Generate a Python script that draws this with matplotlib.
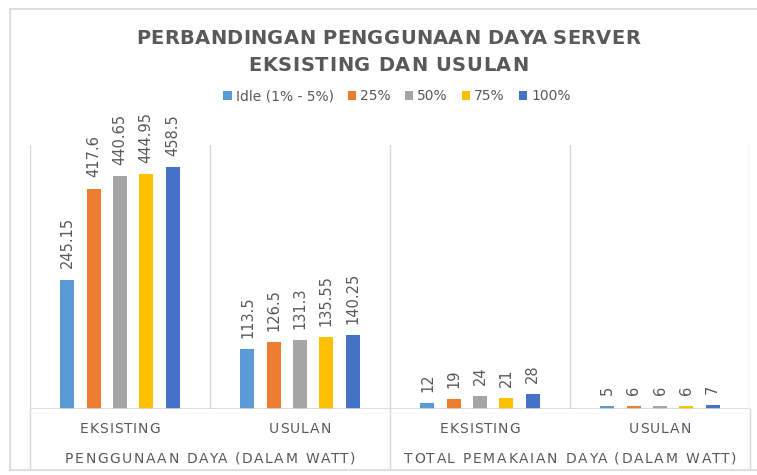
import matplotlib
matplotlib.use("Agg")
import matplotlib.pyplot as plt
import numpy as np
from matplotlib.patches import Rectangle
from matplotlib.lines import Line2D
from matplotlib.font_manager import FontProperties

# ---- data ----
subcategories = ["EKSISTING", "USULAN", "EKSISTING", "USULAN"]
groups = ["PENGGUNAAN DAYA (DALAM WATT)", "TOTAL PEMAKAIAN DAYA (DALAM WATT)"]
series_names = ["Idle (1% - 5%)", "25%", "50%", "75%", "100%"]
idle = [245.15, 113.5, 12, 5]
p25 = [417.6, 126.5, 19, 6]
p50 = [440.65, 131.3, 24, 6]
p75 = [444.95, 135.55, 21, 6]
p100 = [458.5, 140.25, 28, 7]
label_idle = ["245.15", "113.5", "12", "5"]
label_p25 = ["417.6", "126.5", "19", "6"]
label_p50 = ["440.65", "131.3", "24", "6"]
label_p75 = ["444.95", "135.55", "21", "6"]
label_p100 = ["458.5", "140.25", "28", "7"]
title_lines = ["PERBANDINGAN PENGGUNAAN DAYA SERVER", "EKSISTING DAN USULAN"]
colors = ["#5B9BD5", "#ED7D31", "#A5A5A5", "#FFC000", "#4472C4"]

series = [idle, p25, p50, p75, p100]
labels = [label_idle, label_p25, label_p50, label_p75, label_p100]

W, H = 757, 475
fig = plt.figure(figsize=(W / 100, H / 100), dpi=100)
fig.patch.set_facecolor("white")
renderer = fig.canvas.get_renderer()
TXT = "#595959"
grid_c = "#d9d9d9"


def fx(px):
    return px / W


def fy(py):
    return 1 - py / H


def text_w(s, prop):
    if not s:
        return 0.0
    w1 = renderer.get_text_width_height_descent(s + "H", prop, ismath=False)[0]
    w2 = renderer.get_text_width_height_descent("H", prop, ismath=False)[0]
    return w1 - w2


def spaced_text(xc, ybase, s, target_w, size, weight="normal"):
    """Draw text with letter spacing so its overall width is target_w pixels."""
    prop = FontProperties(family="DejaVu Sans", size=size, weight=weight)
    natural = text_w(s, prop)
    track = max((target_w - natural) / (len(s) - 1), 0.0)
    start = xc - target_w / 2
    for i, ch in enumerate(s):
        if ch == " ":
            continue
        xp = start + text_w(s[:i], prop) + track * i
        fig.text(fx(xp), fy(ybase), ch, ha="left", va="baseline",
                 fontproperties=prop, color=TXT)


# outer chart border (top, left, bottom)
for xs_, ys_ in [([10, 757], [9, 9]), ([10, 10], [9, 470]), ([10, 757], [470, 470])]:
    fig.add_artist(Line2D([fx(v) for v in xs_], [fy(v) for v in ys_],
                          transform=fig.transFigure, color=grid_c, linewidth=1.2))

left, right = 30 / W, 750 / W
bottom, top = 1 - 409 / H, 1 - 145 / H
ax = fig.add_axes([left, bottom, right - left, top - bottom])
ax.set_xlim(-0.5, len(subcategories) - 0.5)
ax.set_ylim(0, 500)
for s in ax.spines.values():
    s.set_visible(False)
ax.set_xticks([])
ax.set_yticks([])

x = np.arange(len(subcategories))
step = 0.146
width = 0.078
for i, (vals, labs) in enumerate(zip(series, labels)):
    xs = x + (i - 2) * step
    ax.bar(xs, vals, width=width, color=colors[i], zorder=3)
    for xi, v, lab in zip(xs, vals, labs):
        ax.annotate(lab, (xi, v), xytext=(0, 8), textcoords="offset points",
                    rotation=90, ha="center", va="bottom", fontsize=10.5,
                    color=TXT, family="DejaVu Sans")

# vertical gridlines at category boundaries
for b in np.arange(-0.5, len(subcategories), 1.0):
    ax.axvline(b, color=grid_c, linewidth=1, zorder=1)
ax.axhline(0, color=grid_c, linewidth=1.2, zorder=4)

# group separators extending below the axis
ext = -(469 - 409) / (409 - 145)
for b in [-0.5, 1.5, 3.5]:
    ax.add_line(Line2D([b, b], [0, ext], transform=ax.get_xaxis_transform(),
                       color=grid_c, linewidth=1, clip_on=False))

# sub-category labels (target widths in px)
sub_widths = {"EKSISTING": 80, "USULAN": 63}
for xi, lab in zip(x, subcategories):
    xc_px = 30 + (xi + 0.5) * (720 / len(subcategories))
    spaced_text(xc_px, 433, lab, sub_widths[lab], 10)
group_widths = [290, 333]
for gi, g in enumerate(groups):
    xc_px = 30 + (gi + 0.5) * 360
    spaced_text(xc_px, 463, g, group_widths[gi], 10)

# title
spaced_text(388, 44, title_lines[0], 504, 14, "bold")
spaced_text(388, 71, title_lines[1], 280, 14, "bold")

# legend
handles = [Rectangle((0, 0), 1, 1, facecolor=c, edgecolor="none") for c in colors]
fig.legend(handles, series_names, loc="center", bbox_to_anchor=(397 / W, 1 - 96 / H),
           ncol=5, frameon=False, fontsize=10, labelcolor=TXT,
           handlelength=0.6, handleheight=0.6, handletextpad=0.3, columnspacing=1.0)

fig.savefig("out.png", dpi=100, facecolor="white")
